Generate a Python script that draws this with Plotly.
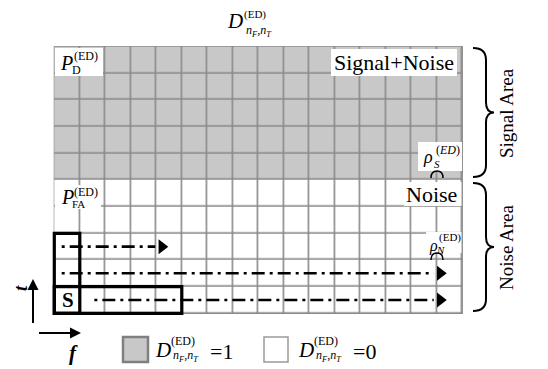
import plotly.graph_objects as go

# ---------------- data ----------------
n_F = 16                      # frequency bins (columns)
row_states = [0, 0, 0, 0, 0, 1, 1, 1, 1, 1]   # D_{nF,nT} per time slot, bottom -> top
col_index = list(range(n_F))
row_index = list(range(len(row_states)))

arrow_rows = [2.5, 1.5, 0.5]          # centre of time slot rows for sliding windows
arrow_start = [0.29, 0.29, 1.57]
arrow_end = [4.47, 15.39, 15.39]

# window rectangles (in cell units): (x0, x1, y0, y1)
win_vert = (0, 1, 0, 3)
win_horz = (0, 5, 0, 1)

# ---------------- geometry helpers ----------------
W, H = 548, 369
OFF = 8                     # page body margin of the browser
GX0, GX1 = 54.3, 462.3      # grid left/right in px (page coords)
GY1, GY0 = 46.7, 313.3      # grid top/bottom in px
CW = (GX1 - GX0) / n_F
RH = (GY0 - GY1) / len(row_states)


def dx(px):
    return (px - GX0) / CW


def dy(py):
    return (GY0 - py) / RH


FONT = "Liberation Serif"
GRID = "#8a8a8a"
FILL = "#c8c8c8"

z = [[row_states[r] for _ in col_index] for r in row_index]

fig = go.Figure()
fig.add_trace(go.Heatmap(
    z=z, x=[c + 0.5 for c in col_index], y=[r + 0.5 for r in row_index],
    colorscale=[[0, "white"], [1, FILL]], zmin=0, zmax=1, showscale=False,
    xgap=1.6, ygap=1.6, hoverinfo="skip"))

# dash-dot sliding arrows
HEAD = 6.5 / CW   # half-length of arrow head in cell units
for yr, xs, xe in zip(arrow_rows, arrow_start, arrow_end):
    fig.add_trace(go.Scatter(
        x=[xs, xe - 2 * HEAD], y=[yr, yr], mode="lines",
        line=dict(color="black", width=2.6, dash="3px,5px,13px,5px"),
        hoverinfo="skip", showlegend=False))
    fig.add_trace(go.Scatter(
        x=[xe - HEAD], y=[yr], mode="markers",
        marker=dict(symbol="triangle-right", size=13, color="black",
                    line=dict(width=0)),
        hoverinfo="skip", showlegend=False))

shapes = []
# grid background (shows through heatmap gaps as grid lines)
shapes.append(dict(type="rect", x0=0, x1=n_F, y0=0, y1=len(row_states),
                   fillcolor=GRID, line=dict(color=GRID, width=1.2), layer="below"))


def white_box(x0, x1, y0, y1):
    shapes.append(dict(type="rect", x0=dx(x0), x1=dx(x1), y0=dy(y1), y1=dy(y0),
                       fillcolor="white", line=dict(width=0), layer="above"))


white_box(55, 103, 48, 76)       # P_D
white_box(331, 457, 49, 76)      # Signal+Noise
white_box(418, 462, 142, 171)    # rho_S
white_box(404, 461.5, 182, 206)  # Noise
white_box(55, 101, 185, 209)     # P_FA
white_box(426, 461.5, 232, 253)  # rho_N

# bold window rectangles
for (x0, x1, y0, y1) in (win_vert, win_horz):
    shapes.append(dict(type="rect", x0=x0, x1=x1, y0=y0, y1=y1,
                       line=dict(color="black", width=3.2), layer="above"))


def path_px(points_cmds):
    out = []
    for cmd, pts in points_cmds:
        coords = " ".join(f"{dx(px):.4f},{dy(py):.4f}" for px, py in pts)
        out.append(f"{cmd}{coords}")
    return " ".join(out)


# small arcs under rho labels
for cy in (178, 260):
    p = path_px([("M", [(431, cy)]), ("Q", [(431, cy - 7), (437, cy - 7)]),
                 ("Q", [(443, cy - 7), (443, cy)])])
    shapes.append(dict(type="path", path=p, line=dict(color="black", width=1.5),
                       layer="above"))


# braces
def brace(y0, y1, x0=473, x1=486, tip=494):
    ym = (y0 + y1) / 2
    return path_px([
        ("M", [(x0, y0)]), ("Q", [(x1, y0), (x1, y0 + 12)]),
        ("L", [(x1, ym - 10)]), ("Q", [(x1, ym), (tip, ym)]),
        ("Q", [(x1, ym), (x1, ym + 10)]), ("L", [(x1, y1 - 12)]),
        ("Q", [(x1, y1), (x0, y1)])])


for (a, b) in ((48, 177), (183, 311)):
    shapes.append(dict(type="path", path=brace(a, b), line=dict(color="black", width=2)))

# t / f axis arrows (lines)
shapes.append(dict(type="line", x0=dx(33), x1=dx(33), y0=dy(323), y1=dy(286),
                   line=dict(color="black", width=2)))
shapes.append(dict(type="line", x0=dx(39), x1=dx(74), y0=dy(333), y1=dy(333),
                   line=dict(color="black", width=2)))

# legend squares
shapes.append(dict(type="rect", x0=dx(123), x1=dx(148), y0=dy(362), y1=dy(337),
                   fillcolor=FILL, line=dict(color="#808080", width=2.5)))
shapes.append(dict(type="rect", x0=dx(264), x1=dx(288), y0=dy(362), y1=dy(337),
                   fillcolor="white", line=dict(color="#9a9a9a", width=1.5)))

annotations = []


def txt(text, x, y, size, xanchor="center", yanchor="middle", angle=0, color="black"):
    annotations.append(dict(text=text, x=dx(x), y=dy(y), xref="x", yref="y",
                            showarrow=False, xanchor=xanchor, yanchor=yanchor,
                            textangle=angle, font=dict(family=FONT, size=size, color=color)))


def arrowhead(xtip, ytip, xtail, ytail):
    annotations.append(dict(text="", x=dx(xtip), y=dy(ytip), ax=dx(xtail), ay=dy(ytail),
                            xref="x", yref="y", axref="x", ayref="y", showarrow=True,
                            arrowhead=2, arrowsize=1.1, arrowwidth=2, arrowcolor="black"))


arrowhead(33, 279, 33, 300)
arrowhead(81, 333, 60, 333)

SUBNF = "<i>n</i><sub><i>F</i></sub>,<i>n</i><sub><i>T</i></sub>"

# title D^(ED)_{nF,nT}
txt("<i>D</i>", 235, 21, 21)
txt("(ED)", 255, 14, 11)
txt(SUBNF, 259, 31, 12)

# P_D
txt("<i>P</i>", 66, 63, 20)
txt("(ED)", 86, 56, 12)
txt("D", 76, 70, 12)

# P_FA
txt("<i>P</i>", 67, 197, 20)
txt("(ED)", 86, 192, 12)
txt("FA", 78, 204, 11)

txt("Signal+Noise", 394, 62, 22)
txt("Noise", 431, 194, 22)

# rho_S
txt("<i>ρ</i>", 428, 157, 18)
txt("(<i>ED</i>)", 448, 150, 12)
txt("<i>S</i>", 437, 164, 11)

# rho_N
txt("<i>ρ</i>", 433, 246, 16)
txt("(ED)", 450, 237, 11)
txt("<i>N</i>", 440, 250, 11)

# S cell
txt("<b>S</b>", 68, 300, 21)

txt("Signal Area", 506, 113, 19, angle=-90)
txt("Noise Area", 506, 247, 19, angle=-90)

txt("<b><i>t</i></b>", 20, 288, 19, angle=-90)
txt("<b><i>f</i></b>", 73, 353, 21)

# legend labels
for xo, val in ((0, "=1"), (143, "=0")):
    txt("<i>D</i>", 163 + xo, 350, 21)
    txt("(ED)", 183 + xo, 341, 12)
    txt(SUBNF, 186 + xo, 356, 12)
    txt(val, 221 + xo, 351, 22)

# the figure is placed at (OFF, OFF) in the page, so it spans page px OFF..W, OFF..H
fig.update_layout(
    width=W - OFF, height=H - OFF, margin=dict(l=0, r=0, t=0, b=0, pad=0),
    paper_bgcolor="white", plot_bgcolor="white", showlegend=False,
    shapes=shapes, annotations=annotations,
    xaxis=dict(range=[dx(OFF), dx(W)], visible=False, fixedrange=True),
    yaxis=dict(range=[dy(H), dy(OFF)], visible=False, fixedrange=True),
)

fig.write_html("out.html")
